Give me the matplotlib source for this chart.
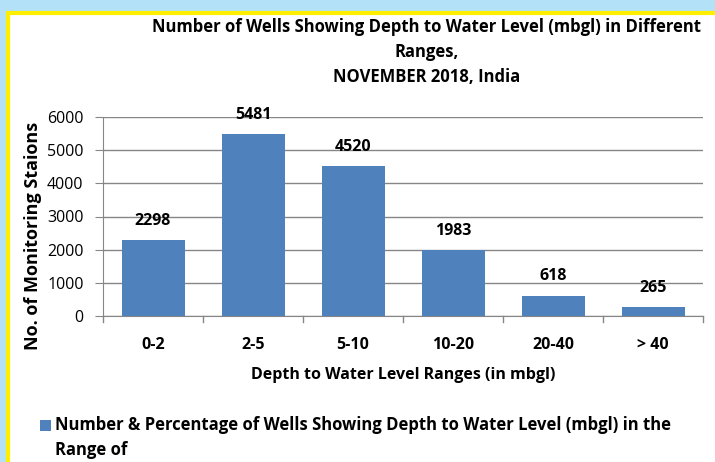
import matplotlib
matplotlib.use("Agg")
import matplotlib.pyplot as plt
from matplotlib.patches import Rectangle

categories = ["0-2", "2-5", "5-10", "10-20", "20-40", "> 40"]
values = [2298, 5481, 4520, 1983, 618, 265]
yticks = [0, 1000, 2000, 3000, 4000, 5000, 6000]

plt.rcParams['font.family'] = ['Open Sans', 'DejaVu Sans']

W, H = 715, 462
fig = plt.figure(figsize=(W/100, H/100), dpi=100)
fig.patch.set_facecolor("#b3e1f7")

# white panel with yellow border
panel = Rectangle((8/W, -0.01), 1 - 8/W + 0.01, 1 - 13/H + 0.01, transform=fig.transFigure,
                  facecolor="white", edgecolor="#ffee00", linewidth=3, zorder=-5)
fig.patches.append(panel)

ax = fig.add_axes([103/W, 1 - 316/H, 600/W, 199/H])
ax.set_zorder(2)
ax.set_facecolor("white")
x = list(range(len(categories)))
ax.bar(x, values, width=0.63, color="#4f81bd", zorder=3)
ax.set_xlim(-0.5, len(categories) - 0.5)
ax.set_ylim(0, 6000)
ax.set_yticks(yticks)
ax.set_yticklabels([str(v) for v in yticks], fontsize=11.5)
ax.set_xticks(x)
ax.set_xticklabels(categories, fontsize=11.5, fontweight="bold")
ax.tick_params(axis="x", length=0, pad=15)
for b in [i + 0.5 for i in range(-1, len(categories))]:
    ax.plot([b, b], [0, -180], color="#868686", lw=1, clip_on=False, zorder=2)
ax.tick_params(axis="y", length=6, color="#868686", pad=8)
ax.grid(axis="y", color="#868686", lw=1, zorder=0)
for s in ["top", "right"]:
    ax.spines[s].set_visible(False)
for s in ["left", "bottom"]:
    ax.spines[s].set_color("#868686")

for xi, v in zip(x, values):
    ax.annotate(str(v), (xi, v), xytext=(0, 8), textcoords="offset points",
                ha="center", va="bottom", fontsize=11.5, fontweight="bold")

ax.set_ylabel("No. of Monitoring Staions", fontsize=13, fontweight="bold")
ax.yaxis.set_label_coords((42 - 103) / 600, (316 - 236) / 199)
ax.set_xlabel("Depth to Water Level Ranges (in mbgl)", fontsize=11.5, fontweight="bold")
ax.xaxis.set_label_coords((403 - 103) / 600, -(367 - 316) / 199)

fig.text(427/W, 1 - 18/H,
         "Number of Wells Showing Depth to Water Level (mbgl) in Different\nRanges,\nNOVEMBER 2018, India",
         ha="center", va="top", fontsize=12, fontweight="bold", linespacing=1.5)

# legend
fig.patches.append(Rectangle((40/W, 1 - 431/H), 11/W, 11/H, transform=fig.transFigure,
                             facecolor="#4f81bd", edgecolor="none"))
fig.text(55/W, 1 - 416/H,
         "Number & Percentage of Wells Showing Depth to Water Level (mbgl) in the\nRange of",
         ha="left", va="top", fontsize=12, fontweight="bold", linespacing=1.5)

fig.savefig("out.png", dpi=100)
